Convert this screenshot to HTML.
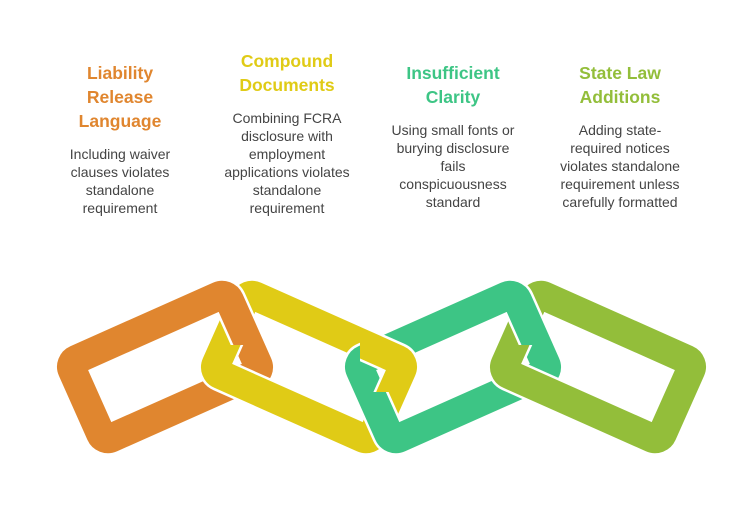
<!DOCTYPE html>
<html><head><meta charset="utf-8"><style>
body{margin:0;background:#fff;width:756px;height:505px;overflow:hidden;position:relative;font-family:"Liberation Sans",sans-serif}
.c{position:absolute;width:170px;text-align:center}
.t{font-weight:bold;font-size:17.5px;line-height:24px}
.d{font-size:14px;line-height:18px;color:#444;margin-top:12px}
</style></head><body>
<div class="c" style="left:35px;top:61px"><div class="t" style="color:#E0862F">Liability<br>Release<br>Language</div><div class="d">Including waiver<br>clauses violates<br>standalone<br>requirement</div></div>
<div class="c" style="left:202px;top:49px"><div class="t" style="color:#E0CB16">Compound<br>Documents</div><div class="d">Combining FCRA<br>disclosure with<br>employment<br>applications violates<br>standalone<br>requirement</div></div>
<div class="c" style="left:368px;top:61px"><div class="t" style="color:#3DC585">Insufficient<br>Clarity</div><div class="d">Using small fonts or<br>burying disclosure<br>fails<br>conspicuousness<br>standard</div></div>
<div class="c" style="left:535px;top:61px"><div class="t" style="color:#93BE3A">State Law<br>Additions</div><div class="d">Adding state-<br>required notices<br>violates standalone<br>requirement unless<br>carefully formatted</div></div>
<svg width="756" height="505" style="position:absolute;left:0;top:0">
<defs>
<clipPath id="c1"><rect x="205" y="260" width="90" height="85"/></clipPath>
<clipPath id="c2"><rect x="360" y="300" width="75" height="92"/></clipPath>
<clipPath id="c3"><rect x="490" y="260" width="90" height="85"/></clipPath>
<g id="o"><rect x="-86" y="-43" width="172" height="86" rx="8" transform="translate(165,367) rotate(-24)"/></g>
<g id="y"><rect x="-86" y="-43" width="172" height="86" rx="8" transform="translate(309,367) rotate(24)"/></g>
<g id="g"><rect x="-86" y="-43" width="172" height="86" rx="8" transform="translate(453,367) rotate(-24)"/></g>
<g id="l"><rect x="-86" y="-43" width="172" height="86" rx="8" transform="translate(598,367) rotate(24)"/></g>
</defs>
<g fill="none">
<use href="#o" stroke="#fff" stroke-width="34"/><use href="#o" stroke="#E0862F" stroke-width="29"/>
<use href="#y" stroke="#fff" stroke-width="34"/><use href="#y" stroke="#E0CB16" stroke-width="29"/>
<g clip-path="url(#c1)"><use href="#o" stroke="#fff" stroke-width="34"/><use href="#o" stroke="#E0862F" stroke-width="29"/></g>
<use href="#g" stroke="#fff" stroke-width="34"/><use href="#g" stroke="#3DC585" stroke-width="29"/>
<g clip-path="url(#c2)"><use href="#y" stroke="#fff" stroke-width="34"/><use href="#y" stroke="#E0CB16" stroke-width="29"/></g>
<use href="#l" stroke="#fff" stroke-width="34"/><use href="#l" stroke="#93BE3A" stroke-width="29"/>
<g clip-path="url(#c3)"><use href="#g" stroke="#fff" stroke-width="34"/><use href="#g" stroke="#3DC585" stroke-width="29"/></g>
</g>
</svg>
</body></html>
